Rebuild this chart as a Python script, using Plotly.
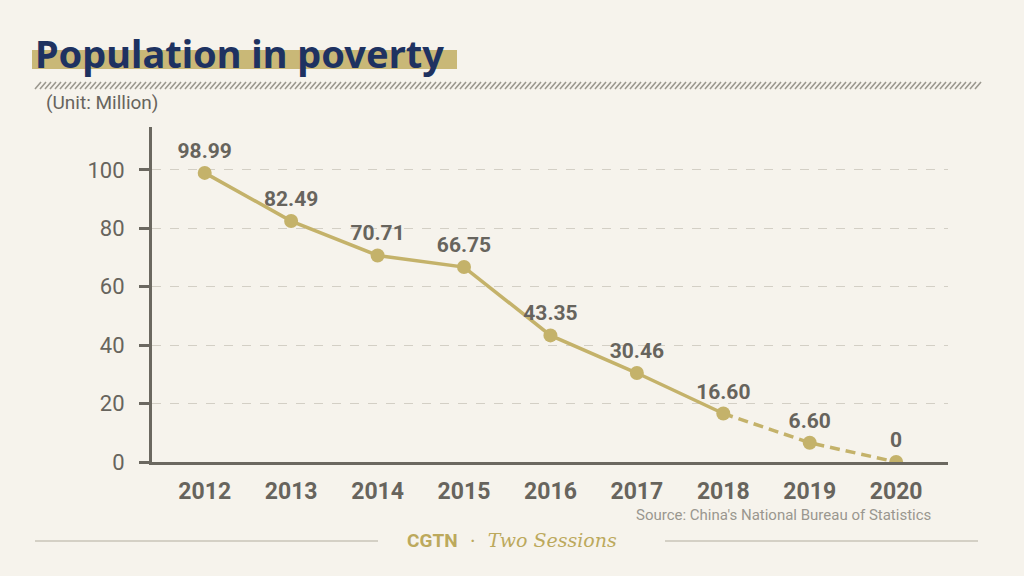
import plotly.graph_objects as go

years = ["2012", "2013", "2014", "2015", "2016", "2017", "2018", "2019", "2020"]
poverty = [98.99, 82.49, 70.71, 66.75, 43.35, 30.46, 16.60, 6.60, 0]
labels = ["98.99", "82.49", "70.71", "66.75", "43.35", "30.46", "16.60", "6.60", "0"]
y_ticks = [0, 20, 40, 60, 80, 100]

GOLD = "#c4b26a"
AXIS = "#6b6860"
TEXT = "#67645d"
BG = "#f6f3ec"
SANS = "Roboto, sans-serif"

W, H = 1024, 576
L, R, T, B = 152, 76, 127, 114
PW, PH = W - L - R, H - T - B


def px(x):
    return (x - L) / PW


def py(y):
    return (H - B - y) / PH


# the last three years are drawn dashed
split = years.index("2018")

fig = go.Figure()
fig.add_trace(go.Scatter(
    x=years[:split + 1], y=poverty[:split + 1], mode="lines",
    line=dict(color=GOLD, width=3.5), hoverinfo="skip", showlegend=False,
))
fig.add_trace(go.Scatter(
    x=years[split:], y=poverty[split:], mode="lines",
    line=dict(color=GOLD, width=3.5, dash="10px,6px"), hoverinfo="skip", showlegend=False,
))
fig.add_trace(go.Scatter(
    x=years, y=poverty, mode="markers+text",
    marker=dict(color=GOLD, size=14),
    text=labels, textposition="top center",
    textfont=dict(family=SANS, size=21, color=TEXT, weight="bold"),
    showlegend=False,
))

# hatched rule under the title, built as one path of short diagonal strokes
segs = []
x = 35
while x < 978:
    segs.append(f"M {px(x):.5f},{py(89):.5f} L {px(x + 6):.5f},{py(82):.5f}")
    x += 5
shapes = [
    # gold highlight behind the title
    dict(type="rect", xref="paper", yref="paper",
         x0=px(32), x1=px(457), y0=py(69), y1=py(50),
         fillcolor="#c9b877", line=dict(width=0), layer="below"),
    dict(type="path", xref="paper", yref="paper", path=" ".join(segs),
         line=dict(color="#9b988f", width=1.6)),
    # footer rules
    dict(type="line", xref="paper", yref="paper",
         x0=px(35), x1=px(378), y0=py(541), y1=py(541),
         line=dict(color="#c9c5b9", width=1.5)),
    dict(type="line", xref="paper", yref="paper",
         x0=px(665), x1=px(978), y0=py(541), y1=py(541),
         line=dict(color="#c9c5b9", width=1.5)),
]

fig.update_layout(
    width=W, height=H,
    margin=dict(l=L, r=R, t=T, b=B),
    paper_bgcolor=BG, plot_bgcolor=BG,
    shapes=shapes,
    annotations=[
        dict(text="<b>Population in poverty</b>", xref="paper", yref="paper",
             x=px(33), y=py(53), xanchor="left", yanchor="middle",
             showarrow=False, font=dict(family="Noto Sans, Lato, sans-serif", size=38, color="#1e3261")),
        dict(text="(Unit: Million)", xref="paper", yref="paper",
             x=px(44), y=py(103), xanchor="left", yanchor="middle",
             showarrow=False, font=dict(family=SANS, size=19, color=TEXT)),
        dict(text="Source: China's National Bureau of Statistics", xref="paper", yref="paper",
             x=px(933), y=py(515), xanchor="right", yanchor="middle",
             showarrow=False, font=dict(family=SANS, size=15, color="#9a978f")),
        dict(text='<span style="font-family:Roboto;font-weight:bold">CGTN</span>'
                  '  ·  <i>Two Sessions</i>',
             xref="paper", yref="paper",
             x=px(512), y=py(540), xanchor="center", yanchor="middle",
             showarrow=False, font=dict(family="DejaVu Serif, serif", size=19, color="#bca95c")),
    ],
    xaxis=dict(
        type="category", range=[-0.61, 8.6],
        showgrid=False, showline=True, linecolor=AXIS, linewidth=3,
        ticks="", tickfont=dict(family=SANS, size=23, color=TEXT, weight="bold"),
        ticklabelstandoff=6, zeroline=False,
    ),
    yaxis=dict(
        range=[0, 114.7], tickvals=y_ticks,
        showline=True, linecolor=AXIS, linewidth=3,
        ticks="outside", ticklen=10, tickwidth=2.5, tickcolor=AXIS,
        tickfont=dict(family=SANS, size=22, color=TEXT),
        ticklabelstandoff=10,
        showgrid=True, gridcolor="#d3cfc5", griddash="dash", gridwidth=1,
        zeroline=False,
    ),
)

fig.write_html("out.html", config={"displayModeBar": False},
               post_script="document.body.style.margin = '0';")
